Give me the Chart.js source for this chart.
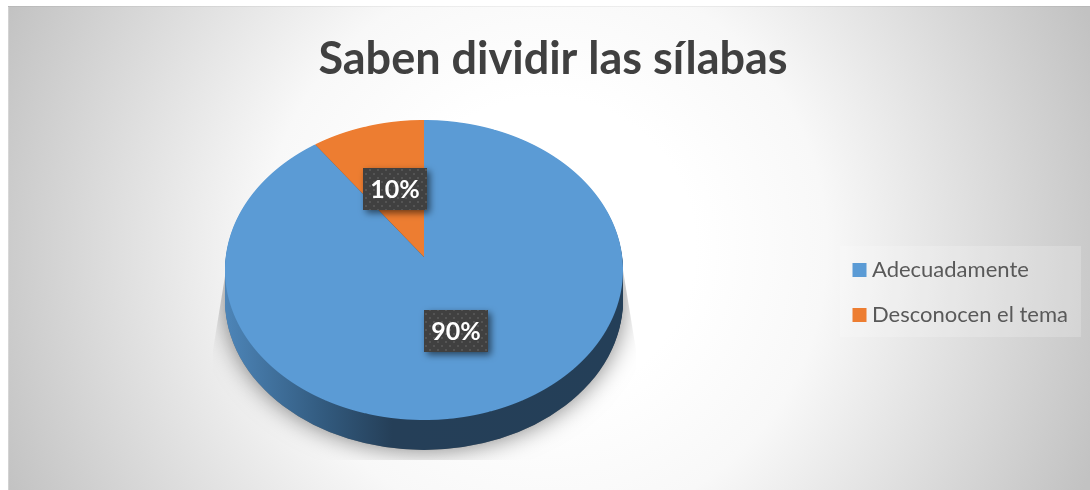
<!DOCTYPE html>
<html>
<head>
<meta charset="utf-8">
<script src="https://cdn.jsdelivr.net/npm/chart.js@4"></script>
<style>
  html, body { margin: 0; padding: 0; background: #fff; }
  #wrap { width: 1090px; height: 490px; }
</style>
</head>
<body>
<div id="wrap"><canvas id="myChart" width="1090" height="490"></canvas></div>
<script>
const titleText = 'Saben dividir las sílabas';
const categories = ['Adecuadamente', 'Desconocen el tema'];
const seriesValues = [90, 10];
const sliceColors = ['#5b9bd5', '#ed7d31'];

// tilted pie on the picture: apex of the slices, perspective strength and the outline ellipse
const apexX = 424, apexY = 257, persp = 0.0867, persA = 198.25, persB = 148.9;
const rimY = 270, rimRx = 199, rimRy = 150, pieDepth = 30;

function dotPattern(ctx) {
  const c = document.createElement('canvas');
  c.width = 8; c.height = 8;
  const p = c.getContext('2d');
  p.fillStyle = '#404040';
  p.fillRect(0, 0, 8, 8);
  p.fillStyle = '#545454';
  p.fillRect(1, 1, 2, 2);
  p.fillRect(5, 5, 2, 2);
  return ctx.createPattern(c, 'repeat');
}

// draws a round chart.js arc row by row so it comes out in perspective
function drawPerspective(ctx, arc) {
  const R = arc.outerRadius;
  for (let row = rimY - rimRy - 2; row < rimY + rimRy + 2; row++) {
    const t = (row + 0.5 - apexY) / persB;
    const f = 1 + persp * t;
    const v = t / f;
    ctx.save();
    ctx.beginPath();
    ctx.rect(0, row, 1090, 1);
    ctx.clip();
    ctx.translate(apexX, row + 0.5);
    ctx.scale(persA * f / R, persB * f * f / R);
    ctx.translate(-arc.x, -(arc.y + v * R));
    arc.draw(ctx);
    ctx.restore();
  }
}

function rimPath(ctx, dy) {
  ctx.beginPath();
  ctx.ellipse(apexX, rimY + dy, rimRx, rimRy, 0, 0, Math.PI * 2);
  ctx.closePath();
}

const backgroundPlugin = {
  id: 'background',
  beforeDraw(chart) {
    const ctx = chart.ctx;
    const g = ctx.createRadialGradient(545, 248, 150, 545, 248, 590);
    g.addColorStop(0, '#ffffff');
    g.addColorStop(0.3, '#f8f8f8');
    g.addColorStop(1, '#c2c2c2');
    ctx.save();
    ctx.fillStyle = g;
    ctx.fillRect(8, 6, 1082, 484);
    ctx.fillStyle = 'rgba(0,0,0,0.05)';
    ctx.fillRect(8, 6, 1082, 1);
    ctx.fillStyle = 'rgba(255,255,255,0.25)';
    ctx.fillRect(8, 7, 1, 483);
    // legend backing
    ctx.fillStyle = 'rgba(255,255,255,0.2)';
    ctx.fillRect(840, 246, 241, 91);
    ctx.restore();
  }
};

const tiltPlugin = {
  id: 'tilt',
  beforeDatasetsDraw(chart) {
    const ctx = chart.ctx;
    const arcs = chart.getDatasetMeta(0).data;

    // soft shadow behind the pie, cut off at the bottom like the picture
    ctx.save();
    ctx.beginPath();
    ctx.moveTo(226, 270);
    ctx.lineTo(213, 350);
    ctx.lineTo(213, 460);
    ctx.lineTo(636, 460);
    ctx.lineTo(636, 350);
    ctx.lineTo(623, 270);
    ctx.closePath();
    ctx.clip();
    ctx.shadowColor = 'rgba(0,0,0,0.5)';
    ctx.shadowBlur = 24;
    ctx.fillStyle = '#777';
    rimPath(ctx, pieDepth);
    ctx.fill();
    ctx.restore();

    // side wall
    const side = ctx.createLinearGradient(apexX - rimRx, 0, apexX + rimRx, 0);
    side.addColorStop(0, '#4d85b8');
    side.addColorStop(0.25, '#325a7e');
    side.addColorStop(0.42, '#253f58');
    side.addColorStop(1, '#243f58');
    ctx.fillStyle = side;
    for (let dy = pieDepth; dy > 0; dy--) {
      rimPath(ctx, dy);
      ctx.fill();
    }

    // top face, the library's own arcs
    arcs.forEach(arc => drawPerspective(ctx, arc));
    return false;
  },
  afterDraw(chart) {
    const ctx = chart.ctx;
    const arcs = chart.getDatasetMeta(0).data;
    const total = seriesValues.reduce((a, b) => a + b, 0);
    const pattern = dotPattern(ctx);
    arcs.forEach((arc, i) => {
      const pos = arc.tooltipPosition();
      const u = (pos.x - arc.x) / arc.outerRadius;
      const v = (pos.y - arc.y) / arc.outerRadius;
      const w = 1 - persp * v;
      const x = Math.round(apexX + persA * u / w);
      const y = Math.round(apexY + persB * v / w);
      ctx.save();
      ctx.shadowColor = 'rgba(0,0,0,0.55)';
      ctx.shadowBlur = 7;
      ctx.shadowOffsetX = 3;
      ctx.shadowOffsetY = 3;
      ctx.fillStyle = pattern;
      ctx.fillRect(x - 32, y - 21, 64, 42);
      ctx.restore();
      ctx.fillStyle = '#fff';
      ctx.font = 'bold 25px Lato';
      ctx.textAlign = 'center';
      ctx.textBaseline = 'middle';
      ctx.fillText(Math.round(seriesValues[i] / total * 100) + '%', x, y + 1);
    });
  }
};

const ctx = document.getElementById('myChart').getContext('2d');
const myChart = new Chart(ctx, {
  type: 'pie',
  data: {
    labels: categories,
    datasets: [{
      data: seriesValues,
      backgroundColor: sliceColors,
      borderWidth: 0
    }]
  },
  options: {
    responsive: false,
    animation: false,
    layout: { padding: { top: 32, right: 12, bottom: 141, left: 28 } },
    plugins: {
      title: {
        display: true,
        text: titleText,
        color: '#404040',
        font: { family: 'Lato', size: 45, weight: 'bold' },
        padding: { top: 0, bottom: 20 }
      },
      legend: {
        position: 'right',
        align: 'end',
        labels: {
          color: '#595959',
          font: { family: 'Lato', size: 22 },
          usePointStyle: true,
          pointStyle: 'rect',
          boxWidth: 3,
          boxHeight: 14,
          padding: 23
        }
      },
      tooltip: { enabled: false }
    }
  },
  plugins: [backgroundPlugin, tiltPlugin]
});
</script>
</body>
</html>
